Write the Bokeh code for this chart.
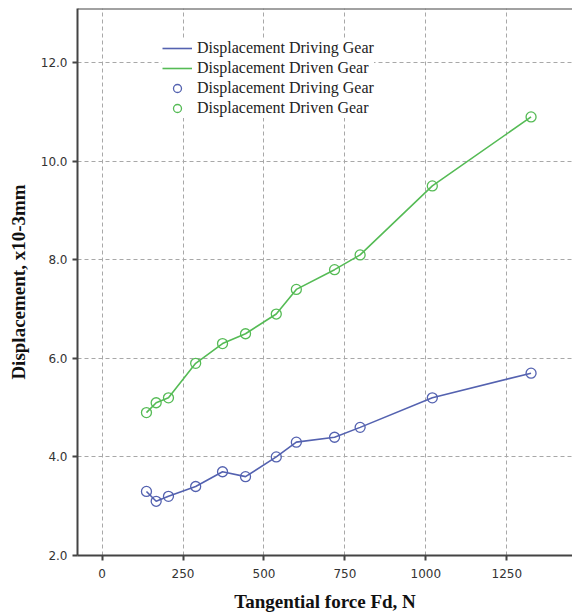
from bokeh.plotting import figure
from bokeh.models import (Legend, LegendItem, FixedTicker, NumeralTickFormatter,
                          Span, Range1d)
from bokeh.embed import file_html
from bokeh.resources import INLINE

# Data
force_n = [137, 167, 205, 289, 372, 443, 538, 600, 718, 797, 1020, 1325]
driving_gear = [3.3, 3.1, 3.2, 3.4, 3.7, 3.6, 4.0, 4.3, 4.4, 4.6, 5.2, 5.7]
driven_gear = [4.9, 5.1, 5.2, 5.9, 6.3, 6.5, 6.9, 7.4, 7.8, 8.1, 9.5, 10.9]
x_ticks = [0, 250, 500, 750, 1000, 1250]
y_ticks = [2, 4, 6, 8, 10, 12]
label_driving = "Displacement Driving Gear"
label_driven = "Displacement Driven Gear"

BLUE = "#5462b0"
GREEN = "#55bb55"
AXIS = "#444444"

p = figure(width=572, height=614, output_backend="svg", toolbar_location=None,
           x_range=Range1d(-76, 1453), y_range=Range1d(2, 13.1),
           min_border_left=77, min_border_right=0, min_border_top=8,
           min_border_bottom=58)
p.outline_line_color = None
p.background_fill_color = "white"
p.border_fill_color = "white"

l1 = p.line(force_n, driving_gear, line_color=BLUE, line_width=1.6)
l2 = p.line(force_n, driven_gear, line_color=GREEN, line_width=1.6)
s1 = p.scatter(force_n, driving_gear, size=10, marker="circle", fill_color=None,
               line_color=BLUE, line_width=1.3)
s2 = p.scatter(force_n, driven_gear, size=10, marker="circle", fill_color=None,
               line_color=GREEN, line_width=1.3)

# axes
p.xaxis.ticker = FixedTicker(ticks=x_ticks)
p.yaxis.ticker = FixedTicker(ticks=y_ticks)
p.yaxis.formatter = NumeralTickFormatter(format="0.0")
for ax in (p.xaxis[0], p.yaxis[0]):
    ax.axis_line_color = AXIS
    ax.axis_line_width = 2
    ax.major_tick_line_color = AXIS
    ax.major_tick_line_width = 2
    ax.major_tick_out = 5
    ax.major_tick_in = 0
    ax.minor_tick_line_color = None
    ax.major_label_text_font = "DejaVu Sans"
    ax.major_label_text_font_size = "12px"
    ax.major_label_text_color = "#333333"
    ax.axis_label_text_font = "Liberation Serif"
    ax.axis_label_text_font_style = "bold"
    ax.axis_label_text_font_size = "19px"
    ax.axis_label_text_color = "#111111"

p.xaxis.axis_label = "Tangential force Fd, N"
p.yaxis.axis_label = "Displacement, x10-3mm"
p.xaxis.major_label_standoff = 8
p.xaxis.axis_label_standoff = 10
p.yaxis.major_label_standoff = 5
p.yaxis.axis_label_standoff = 9

# grid
for g in (p.xgrid[0], p.ygrid[0]):
    g.grid_line_color = "#a8a8a8"
    g.grid_line_dash = "4 3"
    g.grid_line_width = 1

# top frame line
p.add_layout(Span(location=13.1, dimension="width", line_color=AXIS, line_width=2))

legend = Legend(items=[
    LegendItem(label=label_driving, renderers=[l1]),
    LegendItem(label=label_driven, renderers=[l2]),
    LegendItem(label=label_driving, renderers=[s1]),
    LegendItem(label=label_driven, renderers=[s2]),
], location=(85, 437))
legend.padding = 10
legend.margin = 0
legend.spacing = 0
legend.glyph_width = 30
legend.glyph_height = 20
legend.label_height = 20
legend.label_standoff = 5
legend.label_text_font = "Liberation Serif"
legend.label_text_font_size = "16px"
legend.label_text_color = "#222222"
legend.border_line_color = None
legend.background_fill_color = "white"
legend.background_fill_alpha = 1.0
p.add_layout(legend)

open("out.html", "w").write(file_html(p, INLINE))
